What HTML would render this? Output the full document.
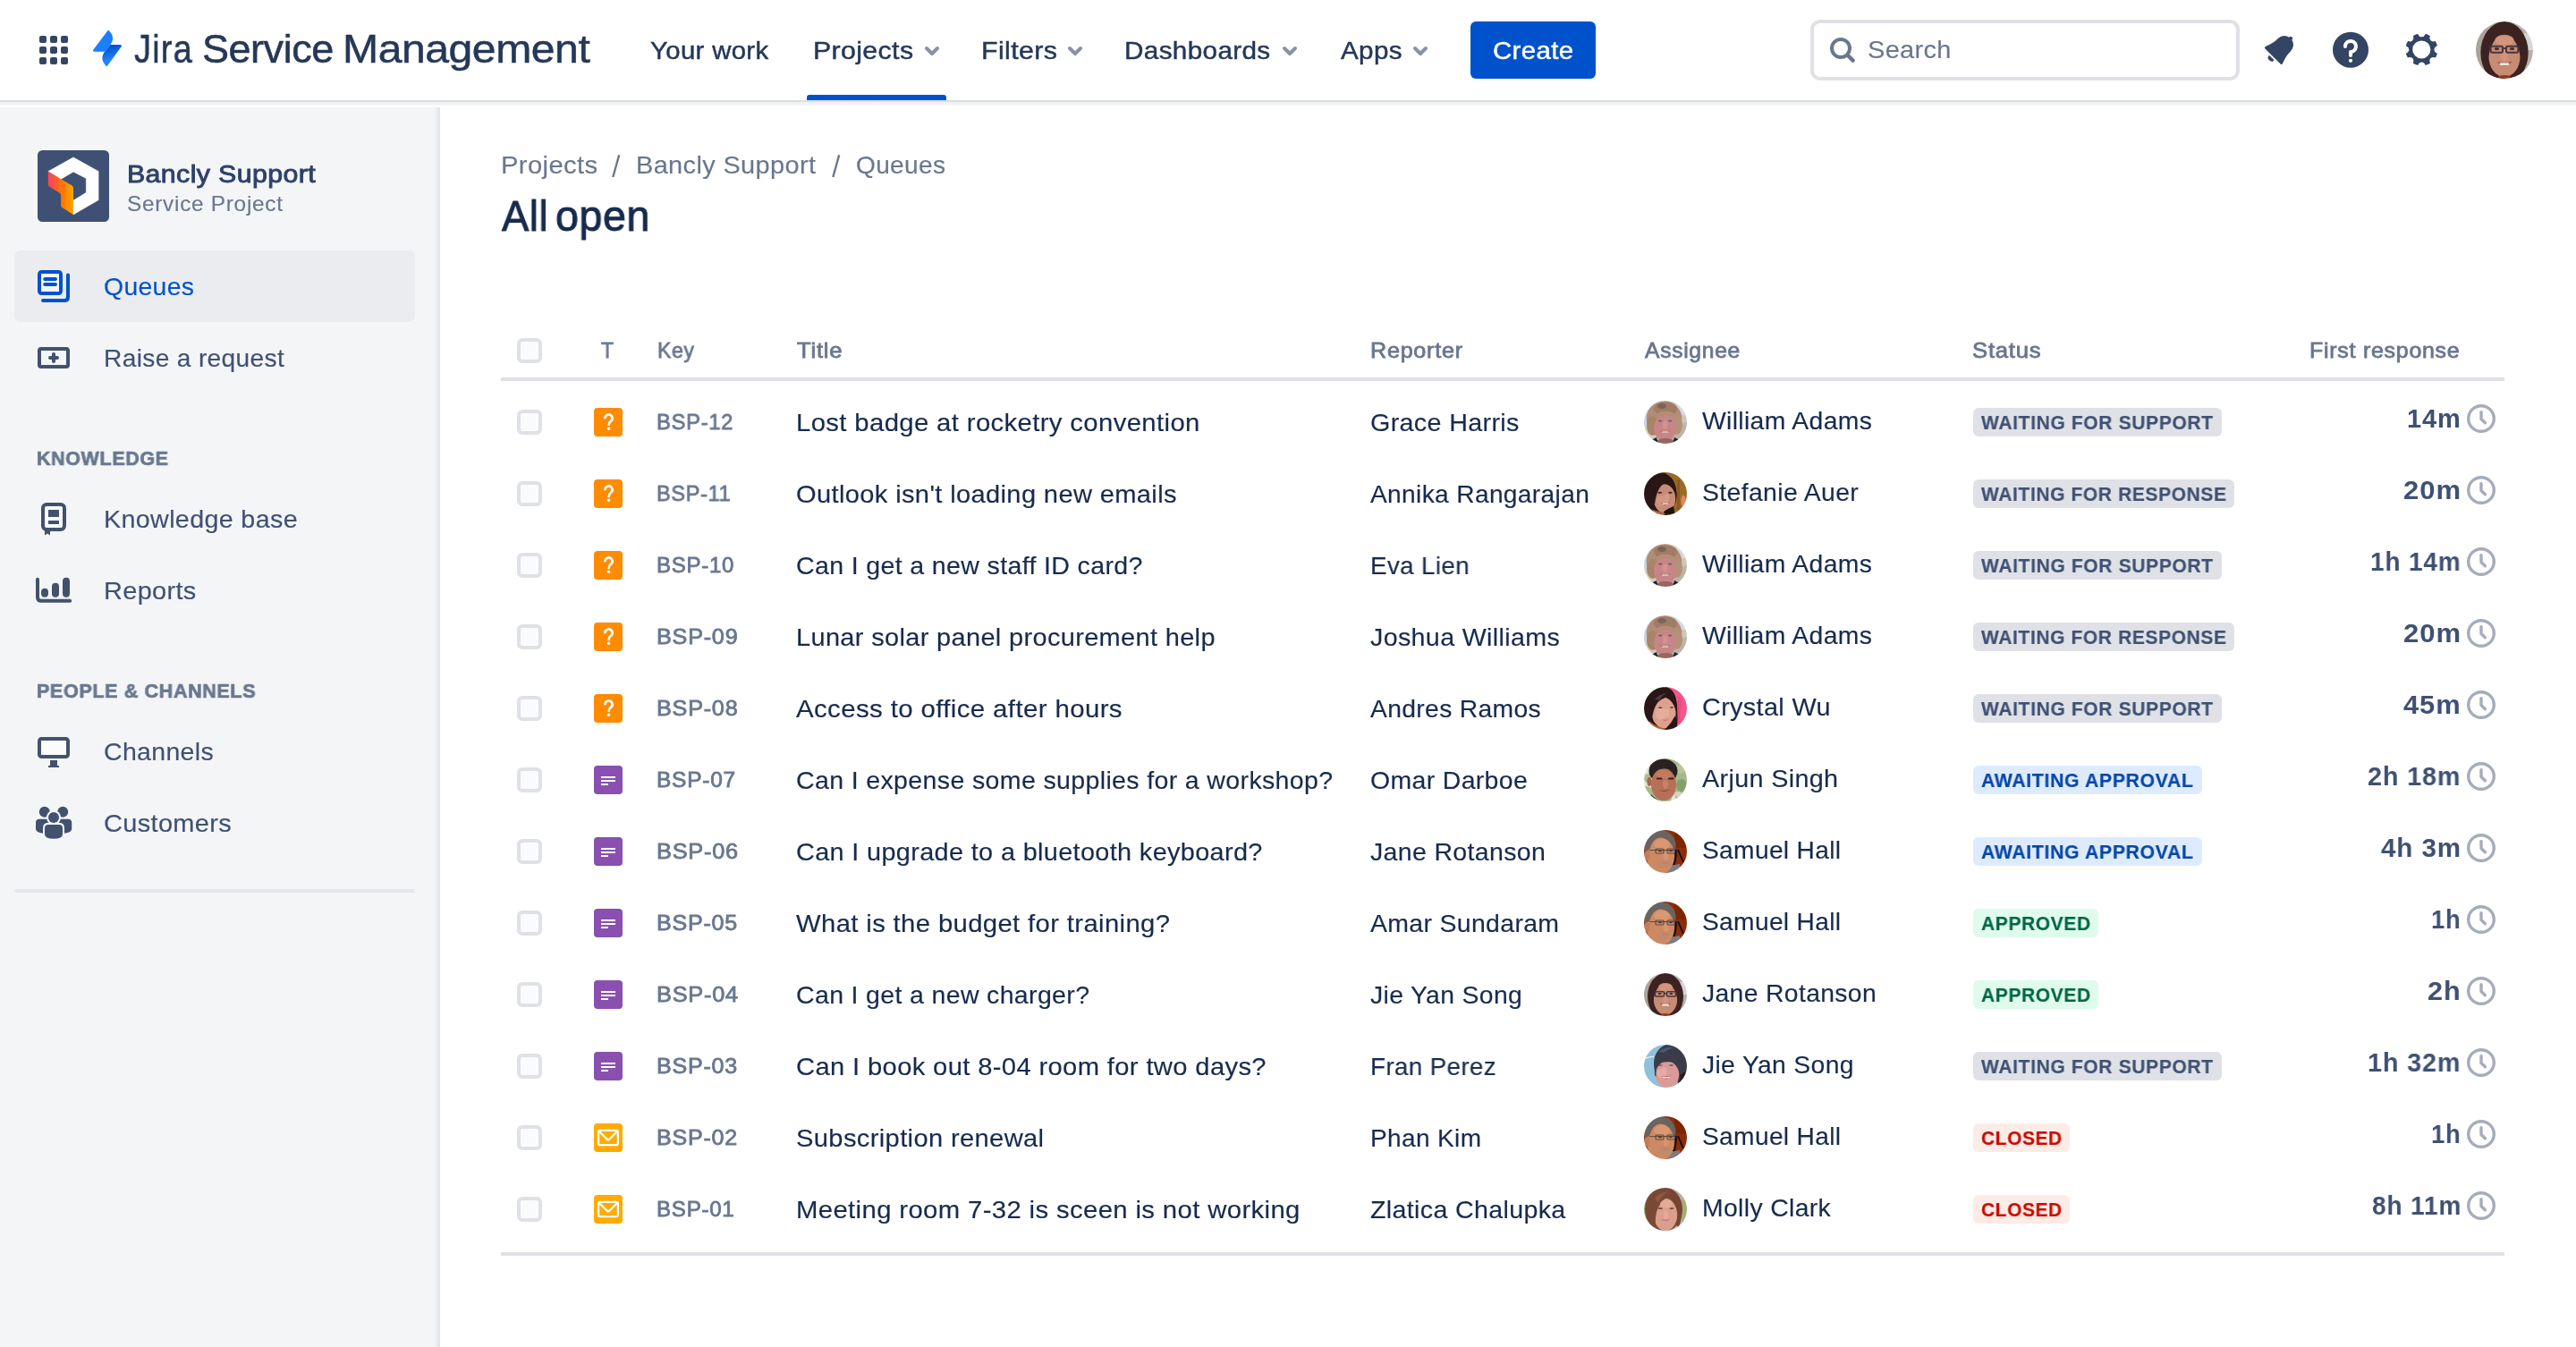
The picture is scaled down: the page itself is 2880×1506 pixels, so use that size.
<!DOCTYPE html>
<html><head><meta charset="utf-8"><title>All open - Bancly Support - Jira Service Management</title>
<style>
html,body{margin:0;padding:0;}
body{width:2880px;height:1506px;overflow:hidden;background:#fff;position:relative;font-family:"Liberation Sans",sans-serif;}
.t{position:absolute;white-space:nowrap;font-family:"Liberation Sans",sans-serif;will-change:transform;-webkit-font-smoothing:antialiased;}
.a{position:absolute;}

.hdr{position:absolute;left:0;top:0;width:2880px;height:112px;background:#fff;}
.hshadow{position:absolute;left:0;top:112px;width:2880px;height:8px;background:linear-gradient(180deg,rgba(9,30,66,.15) 0,rgba(9,30,66,.15) 2px,rgba(9,30,66,.065) 2px,rgba(9,30,66,.05) 5px,rgba(9,30,66,0) 6.5px);}
.side{position:absolute;left:0;top:120px;width:492px;height:1386px;background:#F4F5F7;}
.side:after{content:"";position:absolute;right:0;top:0;width:7px;height:100%;background:linear-gradient(90deg,rgba(9,30,66,0) 0,rgba(9,30,66,.03) 3px,rgba(9,30,66,.085) 7px);}
.sel{position:absolute;left:16px;top:280px;width:448px;height:80px;border-radius:7px;background:#EBECF0;}
.sdiv{position:absolute;left:16px;top:994px;width:448px;height:4px;border-radius:2px;background:#E4E6EB;}
.uline{position:absolute;left:902px;top:106px;width:156px;height:6px;border-radius:3px 3px 0 0;background:#0052CC;}
.create{position:absolute;left:1644px;top:24px;width:140px;height:64px;border-radius:6px;background:#0052CC;}
.search{position:absolute;left:2024px;top:22px;width:472px;height:60px;border:4px solid #DFE1E6;border-radius:11px;background:#fff;}
.hline{position:absolute;left:560px;width:2240px;height:4px;background:#DFE1E6;}
.cb{position:absolute;left:578px;width:20px;height:20px;border:4px solid #DFE1E6;border-radius:6px;background:#FAFBFC;}
.ti{position:absolute;left:664px;width:32px;height:32px;}
.lz{position:absolute;left:2206px;height:32px;border-radius:6px;}
.ck{position:absolute;left:2756px;width:36px;height:36px;}
.av{position:absolute;left:1838px;width:48px;height:48px;}

</style></head><body>
<svg width="0" height="0" style="position:absolute"><defs><clipPath id="avclip"><circle cx="24" cy="24" r="24"/></clipPath><filter id="avblur" x="-10%" y="-10%" width="120%" height="120%"><feGaussianBlur stdDeviation="0.55"/></filter><symbol id="av-william" viewBox="0 0 48 48"><g clip-path="url(#avclip)"><g filter="url(#avblur)"><rect width="48" height="48" fill="#CFC6BA"/><rect x="0" y="0" width="12" height="30" fill="#C9D3E2"/><rect x="36" y="0" width="12" height="16" fill="#D5DAE0"/><path d="M30 30 L48 24 L48 48 L30 48 Z" fill="#BDB4A8"/><path d="M0 30 L12 28 L14 48 L0 48 Z" fill="#D9C9B8"/><ellipse cx="22.5" cy="20" rx="19.8" ry="19.5" fill="#B08D75"/><ellipse cx="10" cy="28" rx="7" ry="11" fill="#A88468"/><ellipse cx="36.5" cy="27" rx="6.5" ry="11" fill="#B5917A"/><ellipse cx="24" cy="9" rx="13" ry="7.5" fill="#A07C66"/><ellipse cx="20" cy="6" rx="5" ry="3" fill="#7E6254"/><ellipse cx="23.5" cy="30.5" rx="12.3" ry="15.5" fill="#C88588"/><path d="M11 20 Q16 10 24 12 Q32 10 37 21 Q31 16 27 17 Q24 13 21 18 Q16 16 11 20 Z" fill="#B38E74"/><ellipse cx="23.5" cy="27" rx="3" ry="4.5" fill="#D49193"/><ellipse cx="18.2" cy="22.6" rx="2.4" ry="1.1" fill="#6E6470"/><ellipse cx="29.2" cy="22.6" rx="2.4" ry="1.1" fill="#6E6470"/><path d="M17.5 33.5 Q23.5 37.5 30 33.5 Q23.5 35.2 17.5 33.5 Z" fill="#6B3F40"/><rect x="20" y="34.2" width="7.5" height="1.6" rx=".8" fill="#E4D8CE"/><ellipse cx="24" cy="46" rx="10" ry="4" fill="#94675F"/><path d="M8 44 L14 41 L16 48 L8 48 Z" fill="#1E2433"/><path d="M40 44 L34 41 L32 48 L40 48 Z" fill="#1E2433"/></g></g></symbol><symbol id="av-stefanie" viewBox="0 0 48 48"><g clip-path="url(#avclip)"><g filter="url(#avblur)"><rect width="48" height="48" fill="#9A6A25"/><rect x="37" y="8" width="3" height="34" fill="#8A5A22"/><ellipse cx="44" cy="32" rx="2.6" ry="6.5" fill="#E88560"/><ellipse cx="17" cy="25" rx="19.5" ry="25.5" fill="#2A1512"/><path d="M22 2 Q34 4 36 20 Q37 28 35 34 L30 20 Z" fill="#2A1512"/><ellipse cx="23" cy="29.5" rx="12.2" ry="16.2" fill="#C98C78"/><path d="M9 30 Q10 12 24 9 Q31 10 34 20 Q28 12 22 13 Q14 18 12 36 Z" fill="#2A1512"/><ellipse cx="20" cy="32" rx="6" ry="6" fill="#D59A86" opacity=".7"/><ellipse cx="25.5" cy="28.5" rx="2.6" ry="4.5" fill="#D79C84"/><ellipse cx="17.8" cy="22.8" rx="2.6" ry="1.1" fill="#4A2E2A"/><ellipse cx="29.5" cy="22.8" rx="2.4" ry="1.1" fill="#4A2E2A"/><path d="M18.5 34 Q24 36.5 29.5 33.5 Q24 39.5 18.5 34 Z" fill="#A4584E"/><rect x="20.5" y="34.6" width="7" height="1.4" rx=".7" fill="#E2CFC4"/><path d="M22 44 Q28 40 33 38 L35 48 L22 48 Z" fill="#1F1210"/><path d="M10 42 L24 46 L22 48 L8 48 Z" fill="#B0623F"/></g></g></symbol><symbol id="av-crystal" viewBox="0 0 48 48"><g clip-path="url(#avclip)"><g filter="url(#avblur)"><rect width="48" height="48" fill="#F2588A"/><path d="M38 10 Q44 14 42 22 Q40 30 41 40 L36 40 Z" fill="#E04A7A" opacity=".6"/><ellipse cx="17" cy="24" rx="20" ry="25" fill="#2B1614"/><path d="M24 0 Q36 2 37 22 Q38 36 37 48 L30 48 Z" fill="#2B1614"/><ellipse cx="22" cy="29" rx="13.5" ry="17.5" transform="rotate(-8 22 29)" fill="#DDA08E"/><path d="M5 30 Q6 10 24 6 Q33 8 36 22 Q30 10 24 12 Q15 14 11 26 Q9 32 9 38 Z" fill="#2B1614"/><path d="M12 14 Q18 7 25 7 Q20 10 17 15 Z" fill="#4A3A3C"/><ellipse cx="19" cy="30" rx="6" ry="7" fill="#E8B0A0" opacity=".8"/><ellipse cx="25.5" cy="29" rx="2.6" ry="5" fill="#E6AC9A"/><path d="M15.5 23.2 Q18 21.6 21 23.2 Q18 24.6 15.5 23.2 Z" fill="#3A2422"/><path d="M28.5 23 Q31 21.6 33.5 22.8 Q31 24.4 28.5 23 Z" fill="#3A2422"/><path d="M19.5 36 Q24 37.5 28 36 Q24 39.8 19.5 36 Z" fill="#D66A7C"/><path d="M6 38 Q12 44 24 47 L22 48 L6 48 Z" fill="#B4683F"/><path d="M24 47 Q31 40 35 32 L37 48 L24 48 Z" fill="#2B1614"/></g></g></symbol><symbol id="av-arjun" viewBox="0 0 48 48"><g clip-path="url(#avclip)"><g filter="url(#avblur)"><rect width="48" height="48" fill="#A5BA8B"/><rect x="0" y="0" width="12" height="34" fill="#E6E2DA"/><ellipse cx="4" cy="22" rx="4" ry="5" fill="#A9BE8E"/><path d="M0 30 L12 34 L12 48 L0 48 Z" fill="#A5BA8B"/><ellipse cx="42" cy="30" rx="6" ry="7" fill="#86A06C"/><ellipse cx="40" cy="12" rx="6" ry="5" fill="#B4C79C"/><ellipse cx="38" cy="40" rx="4" ry="3" fill="#D8CFC4"/><ellipse cx="21.5" cy="14" rx="16" ry="13.5" fill="#2C2220"/><ellipse cx="22" cy="29" rx="14" ry="18" fill="#B66F58"/><ellipse cx="6" cy="26" rx="2.6" ry="5" fill="#A9644F"/><path d="M8 22 Q8 8 22 8 Q35 8 36 22 Q33 14 28 12 Q22 10 15 13 Q10 16 8 22 Z" fill="#2C2220"/><ellipse cx="22" cy="18" rx="9" ry="5" fill="#C47C64" opacity=".8"/><ellipse cx="24" cy="29" rx="3.2" ry="5" fill="#C98068"/><rect x="14" y="21.6" width="6.4" height="1.8" rx=".9" fill="#3A2420"/><rect x="27" y="21.6" width="6.4" height="1.8" rx=".9" fill="#3A2420"/><path d="M16 35 Q23 37 30 34.5 Q23 39 16 35 Z" fill="#8A4538"/><path d="M8 40 Q14 47 22 48 L6 48 Z" fill="#3A2C2A"/><path d="M31 44 L34 40 L36 48 L30 48 Z" fill="#E9E6E0"/></g></g></symbol><symbol id="av-samuel" viewBox="0 0 48 48"><g clip-path="url(#avclip)"><g filter="url(#avblur)"><rect width="48" height="48" fill="#8B2E08"/><rect x="34" y="0" width="14" height="20" fill="#7E2706"/><path d="M35.5 22 Q37 30 31 47" stroke="#160C08" stroke-width="2.2" fill="none"/><path d="M38 22 L44 36" stroke="#160C08" stroke-width="1.8" fill="none"/><path d="M28 40 L40 38 L42 48 L26 48 Z" fill="#7C7C84"/><ellipse cx="18" cy="17" rx="17.5" ry="17" fill="#6B6460"/><ellipse cx="18.5" cy="29" rx="15.5" ry="20.5" fill="#CE8964"/><ellipse cx="3.5" cy="28" rx="3" ry="6" fill="#C27C58"/><path d="M1 24 Q2 3 20 2 Q33 4 34 20 Q30 9 20 7.5 Q10 8.5 6 22 Z" fill="#6B6460"/><ellipse cx="20" cy="16" rx="9" ry="6" fill="#DB9A74" opacity=".85"/><ellipse cx="24.5" cy="29" rx="3" ry="5.5" fill="#D9946E"/><ellipse cx="22" cy="38" rx="8" ry="5" fill="#BE8A70" opacity=".7"/><path d="M6 22.6 L35 22.6" stroke="#5A4A42" stroke-width="1"/><rect x="13" y="21" width="9" height="5" rx="1" fill="none" stroke="#5A4A42" stroke-width="1.1"/><rect x="26" y="21" width="8.5" height="5" rx="1" fill="none" stroke="#5A4A42" stroke-width="1.1"/><ellipse cx="18" cy="23.2" rx="2" ry="1" fill="#4A3A36"/><ellipse cx="30" cy="23.2" rx="2" ry="1" fill="#4A3A36"/><path d="M20 36.2 Q25 37.2 28 36 Q25 38.4 20 36.2 Z" fill="#D0574A"/></g></g></symbol><symbol id="av-jane" viewBox="0 0 48 48"><g clip-path="url(#avclip)"><g filter="url(#avblur)"><rect width="48" height="48" fill="#B7B1A9"/><rect x="40" y="10" width="8" height="14" fill="#D6D6D8"/><path d="M0 10 L10 4 L10 40 L0 40 Z" fill="#A9A39B"/><ellipse cx="24" cy="26" rx="20" ry="26" fill="#3C2420"/><ellipse cx="24" cy="29" rx="13.2" ry="17.6" fill="#C78A72"/><path d="M10 34 Q8 8 24 6 Q40 8 38 34 Q36 14 24 9.5 Q12 14 10 34 Z" fill="#3C2420"/><ellipse cx="24" cy="15.5" rx="8" ry="4.5" fill="#D39880" opacity=".8"/><ellipse cx="24" cy="29" rx="3" ry="5" fill="#D1937A"/><rect x="12.5" y="20.8" width="10" height="5.2" rx="1.2" fill="none" stroke="#4A3840" stroke-width="1.5"/><rect x="25.5" y="20.8" width="10" height="5.2" rx="1.2" fill="none" stroke="#4A3840" stroke-width="1.5"/><path d="M22.5 22.6 H25.5" stroke="#4A3840" stroke-width="1.3"/><ellipse cx="17.6" cy="23" rx="2" ry="1" fill="#3A2A2C"/><ellipse cx="30.4" cy="23" rx="2" ry="1" fill="#3A2A2C"/><path d="M17.5 33.8 Q24 35.5 30.5 33.5 Q24 40.5 17.5 33.8 Z" fill="#9A4E44"/><rect x="20" y="34.6" width="8" height="2.1" rx="1" fill="#EDE4DC"/><path d="M19 46 Q24 44 29 46 L29 48 L19 48 Z" fill="#8A3A22"/></g></g></symbol><symbol id="av-jie" viewBox="0 0 48 48"><g clip-path="url(#avclip)"><g filter="url(#avblur)"><rect width="48" height="48" fill="#8FC1DC"/><path d="M2 15 Q8 13 11 13.5" stroke="#E6ECF2" stroke-width="1.4" fill="none"/><ellipse cx="30" cy="21" rx="19" ry="22" fill="#3A3A48"/><path d="M34 2 Q48 8 48 24 L48 40 Q44 46 38 44 Z" fill="#3A3A48"/><ellipse cx="26" cy="33.5" rx="13.2" ry="15" fill="#DA9A98"/><path d="M12 34 Q11 18 14 12 Q24 2 40 10 Q47 22 44 36 Q42 24 38 20 Q30 19 22 19.5 Q16 20 14.5 24 Q13 28 13.5 36 Z" fill="#3A3A48"/><path d="M16 8 Q26 1 34 4 Q28 4 22 9 Z" fill="#4C5872"/><path d="M40 34 Q42 40 36 46 L46 42 L46 30 Z" fill="#2A1E1E"/><ellipse cx="20" cy="32" rx="5" ry="5.5" fill="#E8ACA8" opacity=".8"/><ellipse cx="23" cy="29.5" rx="2.6" ry="4.4" fill="#E6A8A2"/><path d="M15 23 Q18 21.4 21 23 Q18 24.6 15 23 Z" fill="#4A4A62"/><path d="M27.5 23 Q30.5 21.4 33.5 23 Q30.5 24.6 27.5 23 Z" fill="#4A4A62"/><path d="M19 35 Q25 36.6 30.5 34 Q25 41.5 19 35 Z" fill="#A8505A"/><path d="M20.4 35.6 Q25 36.8 29.2 35.2 L28.6 37 Q25 38 21.2 37 Z" fill="#EFE8E2"/><path d="M21 38 Q25 39 27.5 38 Q25 40.6 21 38 Z" fill="#EA7488"/></g></g></symbol><symbol id="av-molly" viewBox="0 0 48 48"><g clip-path="url(#avclip)"><g filter="url(#avblur)"><rect width="48" height="48" fill="#B6AEA6"/><path d="M40 14 L48 14 L48 38 L42 38 Z" fill="#A2B072"/><path d="M0 20 L6 20 L6 36 L0 36 Z" fill="#9CAE6C"/><ellipse cx="22" cy="24" rx="21" ry="25" fill="#7A4936"/><path d="M30 2 Q44 10 42 30 Q41 40 38 46 L34 30 Z" fill="#744432"/><ellipse cx="24" cy="30" rx="13.2" ry="18" fill="#DBA08C"/><path d="M8 40 Q4 14 22 7 Q30 4 32 7 Q20 12 15 24 Q12 32 13 44 Z" fill="#7A4936"/><path d="M28 6 Q38 12 38 30 Q36 18 28 10 Z" fill="#744432"/><path d="M12 12 Q18 5 27 4 Q20 8 16 16 Z" fill="#8E5A44"/><ellipse cx="25" cy="18" rx="7" ry="4.5" fill="#E6AE9A" opacity=".8"/><ellipse cx="24.5" cy="30" rx="2.8" ry="5" fill="#E4AA96"/><path d="M15 23 Q18.2 21.4 21.5 23 Q18.2 24.8 15 23 Z" fill="#5A3C34"/><path d="M28 23 Q31 21.4 34 23 Q31 24.8 28 23 Z" fill="#5A3C34"/><path d="M18.5 35 Q24 36.4 29.5 35 Q24 39.6 18.5 35 Z" fill="#C8707C"/><path d="M21.5 36 Q24 38.6 27 36.6 Q24 37.2 21.5 36 Z" fill="#E878A8"/></g></g></symbol></defs></svg>
<div class="hdr"></div><div class="hshadow"></div>
<div class="side"></div><div class="sel"></div><div class="sdiv"></div>
<div class="uline"></div><div class="create"></div><div class="search"></div>
<svg class="a" style="left:36px;top:32px" width="48" height="48" viewBox="0 0 48 48"><rect x="8" y="8" width="8" height="8" rx="2" fill="#344563"/><rect x="20" y="8" width="8" height="8" rx="2" fill="#344563"/><rect x="32" y="8" width="8" height="8" rx="2" fill="#344563"/><rect x="8" y="20" width="8" height="8" rx="2" fill="#344563"/><rect x="20" y="20" width="8" height="8" rx="2" fill="#344563"/><rect x="32" y="20" width="8" height="8" rx="2" fill="#344563"/><rect x="8" y="32" width="8" height="8" rx="2" fill="#344563"/><rect x="20" y="32" width="8" height="8" rx="2" fill="#344563"/><rect x="32" y="32" width="8" height="8" rx="2" fill="#344563"/></svg>
<svg class="a" style="left:96px;top:28px" width="48" height="52" viewBox="96 28 48 52">
<defs><linearGradient id="jg" x1="0.45" y1="0.05" x2="0.6" y2="0.7"><stop offset="0" stop-color="#0052CC"/><stop offset="1" stop-color="#2684FF"/></linearGradient></defs>
<path d="M123.3 50.1 L134.2 50.1 Q137 50.1 135.4 52.6 L119.4 74.6 Q110.5 66.5 117.3 57.6 Z" fill="url(#jg)"/>
<path d="M117.2 57.8 L105.8 57.8 Q103 57.8 104.6 55.3 L121 33.6 Q129.8 41.5 123.2 50.3 Z" fill="#1C7FFF"/>
</svg>
<svg class="a" style="left:1030px;top:46px" width="24" height="22" viewBox="0 0 24 22"><path d="M6 8 L12 14 L18 8" fill="none" stroke="#8792A6" stroke-width="4" stroke-linecap="round" stroke-linejoin="round"/></svg>
<svg class="a" style="left:1190px;top:46px" width="24" height="22" viewBox="0 0 24 22"><path d="M6 8 L12 14 L18 8" fill="none" stroke="#8792A6" stroke-width="4" stroke-linecap="round" stroke-linejoin="round"/></svg>
<svg class="a" style="left:1430px;top:46px" width="24" height="22" viewBox="0 0 24 22"><path d="M6 8 L12 14 L18 8" fill="none" stroke="#8792A6" stroke-width="4" stroke-linecap="round" stroke-linejoin="round"/></svg>
<svg class="a" style="left:1576px;top:46px" width="24" height="22" viewBox="0 0 24 22"><path d="M6 8 L12 14 L18 8" fill="none" stroke="#8792A6" stroke-width="4" stroke-linecap="round" stroke-linejoin="round"/></svg>
<svg class="a" style="left:2040px;top:36px" width="40" height="40" viewBox="2040 36 40 40"><circle cx="2058" cy="54" r="10" fill="none" stroke="#6B778C" stroke-width="4"/><path d="M2065.6 61.6 L2071.6 67.6" stroke="#6B778C" stroke-width="4.4" stroke-linecap="round"/></svg>
<svg class="a" style="left:2524px;top:32px" width="48" height="48" viewBox="0 0 24 24"><path fill="#344563" fill-rule="evenodd" d="M6.485 17.669a2 2 0 002.829 0l-2.829-2.83a2 2 0 000 2.83zm4.897-12.191l-.725.725c-.782.782-2.21 1.813-3.206 2.311l-3.017 1.509c-.495.248-.584.774-.187 1.171l8.556 8.556c.398.396.922.313 1.171-.188l1.51-3.016c.494-.988 1.526-2.42 2.311-3.206l.725-.726a5.048 5.048 0 00.64-6.356 1.01 1.01 0 10-1.354-1.494c-.023.025-.046.049-.066.075a5.043 5.043 0 00-2.788-.84 5.036 5.036 0 00-3.57 1.478z"/></svg>
<svg class="a" style="left:2604px;top:32px" width="48" height="48" viewBox="0 0 24 24"><circle fill="#344563" cx="12" cy="11.85" r="10"/><circle fill="#fff" cx="12" cy="17.9" r="1.05"/><path fill="#fff" d="M15.89 9.05a3.975 3.975 0 00-2.957-2.942C10.321 5.514 8.017 7.446 8 9.95l.005.147a.992.992 0 00.982.904c.552 0 1-.447 1.002-.998a2.004 2.004 0 014.007-.002c0 1.102-.898 2-2.003 2H12a1 1 0 00-1 .987v2.014a1.001 1.001 0 002.004 0v-.782c0-.217.145-.399.35-.472A3.99 3.99 0 0015.89 9.05"/></svg>
<svg class="a" style="left:2684px;top:32px" width="48" height="48" viewBox="0 0 24 24"><path fill="#344563" fill-rule="evenodd" d="M11.701 16.7a5.002 5.002 0 110-10.003 5.002 5.002 0 010 10.004m8.368-3.117a1.995 1.995 0 01-1.346-1.885c0-.876.563-1.613 1.345-1.885a.48.48 0 00.315-.574 8.947 8.947 0 00-.836-1.993.477.477 0 00-.598-.195 2.04 2.04 0 01-1.29.08 1.988 1.988 0 01-1.404-1.395 2.04 2.04 0 01.076-1.297.478.478 0 00-.196-.597 8.98 8.98 0 00-1.975-.826.479.479 0 00-.574.314 1.995 1.995 0 01-1.885 1.346 1.994 1.994 0 01-1.884-1.345.482.482 0 00-.575-.315c-.708.2-1.379.485-2.004.842a.47.47 0 00-.198.582A2.002 2.002 0 014.445 7.06a.478.478 0 00-.595.196 8.946 8.946 0 00-.833 1.994.48.48 0 00.308.572 1.995 1.995 0 011.323 1.877c0 .867-.552 1.599-1.324 1.877a.479.479 0 00-.308.57 8.99 8.99 0 00.723 1.79.477.477 0 00.624.194c.595-.273 1.343-.264 2.104.238.117.077.225.185.302.3.527.8.512 1.58.198 2.188a.473.473 0 00.168.628 8.946 8.946 0 002.11.897.474.474 0 00.57-.313 1.995 1.995 0 011.886-1.353c.878 0 1.618.567 1.887 1.353a.475.475 0 00.57.313 8.964 8.964 0 002.084-.883.473.473 0 00.167-.631c-.318-.608-.337-1.393.191-2.195.077-.116.185-.225.302-.302.772-.511 1.527-.513 2.125-.23a.477.477 0 00.628-.19 8.925 8.925 0 00.728-1.793.478.478 0 00-.314-.573"/></svg>
<svg class="a" style="left:42px;top:168px" width="80" height="80" viewBox="0 0 80 80">
<defs><linearGradient id="og" x1="0" y1="0" x2="1" y2="0"><stop offset="0.1" stop-color="#FF4757"/><stop offset="0.6" stop-color="#FF7A00"/><stop offset="1" stop-color="#FFAB00"/></linearGradient></defs>
<rect width="80" height="80" rx="5.5" fill="#3E5073"/>
<path d="M40 7.8 L68.2 23.4 L68.2 55.7 L40 72.1 L40 55.9 L54.2 47.2 L54.2 31.6 L40 24.2 L26.1 32.4 L11.8 23.6 Z" fill="#fff" stroke="#fff" stroke-width="0.3" stroke-linejoin="round"/>
<path d="M11.8 23.6 L38.5 39.6 Q40 40.6 40 42.5 L40 72.1 L27.3 64 Q26.1 63.1 26.1 61.8 L26.1 50.5 Q26.1 48.7 24.6 47.8 L13 40.4 Q11.8 39.6 11.8 38.2 Z" fill="url(#og)"/>
</svg>
<svg class="a" style="left:40px;top:300px" width="42" height="42" viewBox="40 300 42 42">
<path d="M76 307.6 L76 332 Q76 336 72 336 L48 336" fill="none" stroke="#0052CC" stroke-width="4" stroke-linecap="round"/>
<rect x="44" y="304" width="24" height="24" rx="2.5" fill="#F7F8FA" stroke="#0052CC" stroke-width="4"/>
<path d="M50.2 312 H62 M50.2 318 H62" stroke="#0052CC" stroke-width="4" stroke-linecap="round"/></svg>
<svg class="a" style="left:40px;top:384px" width="42" height="32" viewBox="40 384 42 32">
<rect x="44" y="390" width="32" height="20" rx="2" fill="none" stroke="#42526E" stroke-width="4"/>
<path d="M56 400 H64 M60 396 V404" stroke="#42526E" stroke-width="4" stroke-linecap="round"/></svg>
<svg class="a" style="left:44px;top:560px" width="34" height="40" viewBox="44 560 34 40">
<rect x="48" y="564" width="24" height="28" rx="4" fill="#FAFBFC" stroke="#42526E" stroke-width="4"/>
<rect x="54" y="570" width="12" height="8" fill="#42526E"/><rect x="54" y="582" width="12" height="4" fill="#42526E"/>
<path d="M50 592 H56 V598.4 L53 596.4 L50 598.4 Z" fill="#42526E"/></svg>
<svg class="a" style="left:38px;top:644px" width="46" height="32" viewBox="38 644 46 32">
<path d="M42 647.8 V667.8 Q42 671.8 46 671.8 H78.2" fill="none" stroke="#42526E" stroke-width="4" stroke-linecap="round"/>
<rect x="46" y="657.8" width="8" height="10" rx="4" fill="#42526E"/><rect x="58" y="651.8" width="8" height="16" rx="4" fill="#42526E"/><rect x="70" y="645.8" width="8" height="22" rx="4" fill="#42526E"/></svg>
<svg class="a" style="left:40px;top:822px" width="42" height="38" viewBox="40 822 42 38">
<rect x="44" y="826" width="32" height="20" rx="2.5" fill="#FAFBFC" stroke="#42526E" stroke-width="4"/>
<rect x="56" y="850" width="8" height="6.5" fill="#42526E"/><rect x="54" y="856" width="12" height="2" fill="#42526E"/></svg>
<svg class="a" style="left:38px;top:900px" width="46" height="40" viewBox="38 900 46 40">
<circle cx="49.8" cy="907.8" r="6" fill="#42526E"/><circle cx="70.2" cy="907.8" r="6" fill="#42526E"/>
<path d="M40 920 Q40 915.8 44 915.8 H56 V931.8 H48 Q40 930.8 40 926.8 Z" fill="#42526E"/>
<path d="M80.2 920 Q80.2 915.8 76 915.8 H64 V931.8 H72 Q80.2 930.8 80.2 926.8 Z" fill="#42526E"/>
<circle cx="60" cy="914" r="8" fill="#F4F5F7"/><path d="M48 926 Q48 919.8 54 919.8 H66 Q72 919.8 72 926 V933 H48 Z" fill="#F4F5F7"/>
<circle cx="60" cy="914" r="6" fill="#42526E"/>
<path d="M50 926 Q50 921.9 54 921.9 H66 Q70 921.9 70 926 V932.8 Q70 937.8 60 937.8 Q50 937.8 50 932.8 Z" fill="#42526E"/></svg>
<svg class="a" style="left:682.2px;top:170px" width="14" height="32" viewBox="0 0 14 32"><path d="M3.3 28 L10.2 3.2" stroke="#69778F" stroke-width="2.4" fill="none"/></svg>
<svg class="a" style="left:927.9px;top:170px" width="14" height="32" viewBox="0 0 14 32"><path d="M3.3 28 L10.2 3.2" stroke="#69778F" stroke-width="2.4" fill="none"/></svg>
<div class="hline" style="top:422px"></div><div class="hline" style="top:1400px"></div>
<div class="cb" style="top:378px"></div>
<div class="cb" style="top:458px"></div>
<svg class="ti" style="top:456px" viewBox="0 0 32 32"><rect width="32" height="32" rx="4" fill="#FF8B00"/><path d="M12.55 12.2 A4.05 4.05 0 1 1 18.9 14.8 C17.2 16.2 16.5 17.1 16.5 19.9" fill="none" stroke="#fff" stroke-width="2.7" stroke-linecap="butt"/><circle cx="16.5" cy="23.2" r="1.75" fill="#fff"/></svg>
<div class="lz" style="top:456px;width:278px;background:#DFE1E6"></div>
<svg class="ck" style="top:450px" viewBox="0 0 36 36"><circle cx="18" cy="18" r="14.3" fill="none" stroke="#A5ADBA" stroke-width="3.4"/><path d="M18 10.6 V18.5 L22.4 22.8" fill="none" stroke="#A5ADBA" stroke-width="3.4" stroke-linecap="round" stroke-linejoin="round"/></svg>
<svg class="av" style="top:448px" viewBox="0 0 48 48"><use href="#av-william"/></svg>
<div class="cb" style="top:538px"></div>
<svg class="ti" style="top:536px" viewBox="0 0 32 32"><rect width="32" height="32" rx="4" fill="#FF8B00"/><path d="M12.55 12.2 A4.05 4.05 0 1 1 18.9 14.8 C17.2 16.2 16.5 17.1 16.5 19.9" fill="none" stroke="#fff" stroke-width="2.7" stroke-linecap="butt"/><circle cx="16.5" cy="23.2" r="1.75" fill="#fff"/></svg>
<div class="lz" style="top:536px;width:292px;background:#DFE1E6"></div>
<svg class="ck" style="top:530px" viewBox="0 0 36 36"><circle cx="18" cy="18" r="14.3" fill="none" stroke="#A5ADBA" stroke-width="3.4"/><path d="M18 10.6 V18.5 L22.4 22.8" fill="none" stroke="#A5ADBA" stroke-width="3.4" stroke-linecap="round" stroke-linejoin="round"/></svg>
<svg class="av" style="top:528px" viewBox="0 0 48 48"><use href="#av-stefanie"/></svg>
<div class="cb" style="top:618px"></div>
<svg class="ti" style="top:616px" viewBox="0 0 32 32"><rect width="32" height="32" rx="4" fill="#FF8B00"/><path d="M12.55 12.2 A4.05 4.05 0 1 1 18.9 14.8 C17.2 16.2 16.5 17.1 16.5 19.9" fill="none" stroke="#fff" stroke-width="2.7" stroke-linecap="butt"/><circle cx="16.5" cy="23.2" r="1.75" fill="#fff"/></svg>
<div class="lz" style="top:616px;width:278px;background:#DFE1E6"></div>
<svg class="ck" style="top:610px" viewBox="0 0 36 36"><circle cx="18" cy="18" r="14.3" fill="none" stroke="#A5ADBA" stroke-width="3.4"/><path d="M18 10.6 V18.5 L22.4 22.8" fill="none" stroke="#A5ADBA" stroke-width="3.4" stroke-linecap="round" stroke-linejoin="round"/></svg>
<svg class="av" style="top:608px" viewBox="0 0 48 48"><use href="#av-william"/></svg>
<div class="cb" style="top:698px"></div>
<svg class="ti" style="top:696px" viewBox="0 0 32 32"><rect width="32" height="32" rx="4" fill="#FF8B00"/><path d="M12.55 12.2 A4.05 4.05 0 1 1 18.9 14.8 C17.2 16.2 16.5 17.1 16.5 19.9" fill="none" stroke="#fff" stroke-width="2.7" stroke-linecap="butt"/><circle cx="16.5" cy="23.2" r="1.75" fill="#fff"/></svg>
<div class="lz" style="top:696px;width:292px;background:#DFE1E6"></div>
<svg class="ck" style="top:690px" viewBox="0 0 36 36"><circle cx="18" cy="18" r="14.3" fill="none" stroke="#A5ADBA" stroke-width="3.4"/><path d="M18 10.6 V18.5 L22.4 22.8" fill="none" stroke="#A5ADBA" stroke-width="3.4" stroke-linecap="round" stroke-linejoin="round"/></svg>
<svg class="av" style="top:688px" viewBox="0 0 48 48"><use href="#av-william"/></svg>
<div class="cb" style="top:778px"></div>
<svg class="ti" style="top:776px" viewBox="0 0 32 32"><rect width="32" height="32" rx="4" fill="#FF8B00"/><path d="M12.55 12.2 A4.05 4.05 0 1 1 18.9 14.8 C17.2 16.2 16.5 17.1 16.5 19.9" fill="none" stroke="#fff" stroke-width="2.7" stroke-linecap="butt"/><circle cx="16.5" cy="23.2" r="1.75" fill="#fff"/></svg>
<div class="lz" style="top:776px;width:278px;background:#DFE1E6"></div>
<svg class="ck" style="top:770px" viewBox="0 0 36 36"><circle cx="18" cy="18" r="14.3" fill="none" stroke="#A5ADBA" stroke-width="3.4"/><path d="M18 10.6 V18.5 L22.4 22.8" fill="none" stroke="#A5ADBA" stroke-width="3.4" stroke-linecap="round" stroke-linejoin="round"/></svg>
<svg class="av" style="top:768px" viewBox="0 0 48 48"><use href="#av-crystal"/></svg>
<div class="cb" style="top:858px"></div>
<svg class="ti" style="top:856px" viewBox="0 0 32 32"><rect width="32" height="32" rx="4" fill="#8950AF"/><path d="M8 13 H24 M8 17 H24 M8 21 H16" stroke="#fff" stroke-width="2.2"/></svg>
<div class="lz" style="top:856px;width:256px;background:#DEEBFF"></div>
<svg class="ck" style="top:850px" viewBox="0 0 36 36"><circle cx="18" cy="18" r="14.3" fill="none" stroke="#A5ADBA" stroke-width="3.4"/><path d="M18 10.6 V18.5 L22.4 22.8" fill="none" stroke="#A5ADBA" stroke-width="3.4" stroke-linecap="round" stroke-linejoin="round"/></svg>
<svg class="av" style="top:848px" viewBox="0 0 48 48"><use href="#av-arjun"/></svg>
<div class="cb" style="top:938px"></div>
<svg class="ti" style="top:936px" viewBox="0 0 32 32"><rect width="32" height="32" rx="4" fill="#8950AF"/><path d="M8 13 H24 M8 17 H24 M8 21 H16" stroke="#fff" stroke-width="2.2"/></svg>
<div class="lz" style="top:936px;width:256px;background:#DEEBFF"></div>
<svg class="ck" style="top:930px" viewBox="0 0 36 36"><circle cx="18" cy="18" r="14.3" fill="none" stroke="#A5ADBA" stroke-width="3.4"/><path d="M18 10.6 V18.5 L22.4 22.8" fill="none" stroke="#A5ADBA" stroke-width="3.4" stroke-linecap="round" stroke-linejoin="round"/></svg>
<svg class="av" style="top:928px" viewBox="0 0 48 48"><use href="#av-samuel"/></svg>
<div class="cb" style="top:1018px"></div>
<svg class="ti" style="top:1016px" viewBox="0 0 32 32"><rect width="32" height="32" rx="4" fill="#8950AF"/><path d="M8 13 H24 M8 17 H24 M8 21 H16" stroke="#fff" stroke-width="2.2"/></svg>
<div class="lz" style="top:1016px;width:140px;background:#DFFBEC"></div>
<svg class="ck" style="top:1010px" viewBox="0 0 36 36"><circle cx="18" cy="18" r="14.3" fill="none" stroke="#A5ADBA" stroke-width="3.4"/><path d="M18 10.6 V18.5 L22.4 22.8" fill="none" stroke="#A5ADBA" stroke-width="3.4" stroke-linecap="round" stroke-linejoin="round"/></svg>
<svg class="av" style="top:1008px" viewBox="0 0 48 48"><use href="#av-samuel"/></svg>
<div class="cb" style="top:1098px"></div>
<svg class="ti" style="top:1096px" viewBox="0 0 32 32"><rect width="32" height="32" rx="4" fill="#8950AF"/><path d="M8 13 H24 M8 17 H24 M8 21 H16" stroke="#fff" stroke-width="2.2"/></svg>
<div class="lz" style="top:1096px;width:140px;background:#DFFBEC"></div>
<svg class="ck" style="top:1090px" viewBox="0 0 36 36"><circle cx="18" cy="18" r="14.3" fill="none" stroke="#A5ADBA" stroke-width="3.4"/><path d="M18 10.6 V18.5 L22.4 22.8" fill="none" stroke="#A5ADBA" stroke-width="3.4" stroke-linecap="round" stroke-linejoin="round"/></svg>
<svg class="av" style="top:1088px" viewBox="0 0 48 48"><use href="#av-jane"/></svg>
<div class="cb" style="top:1178px"></div>
<svg class="ti" style="top:1176px" viewBox="0 0 32 32"><rect width="32" height="32" rx="4" fill="#8950AF"/><path d="M8 13 H24 M8 17 H24 M8 21 H16" stroke="#fff" stroke-width="2.2"/></svg>
<div class="lz" style="top:1176px;width:278px;background:#DFE1E6"></div>
<svg class="ck" style="top:1170px" viewBox="0 0 36 36"><circle cx="18" cy="18" r="14.3" fill="none" stroke="#A5ADBA" stroke-width="3.4"/><path d="M18 10.6 V18.5 L22.4 22.8" fill="none" stroke="#A5ADBA" stroke-width="3.4" stroke-linecap="round" stroke-linejoin="round"/></svg>
<svg class="av" style="top:1168px" viewBox="0 0 48 48"><use href="#av-jie"/></svg>
<div class="cb" style="top:1258px"></div>
<svg class="ti" style="top:1256px" viewBox="0 0 32 32"><rect width="32" height="32" rx="4" fill="#FFAB00"/><rect x="5.1" y="7.9" width="21.8" height="16.2" rx="1.8" fill="none" stroke="#fff" stroke-width="2.3"/><path d="M6.2 9.2 L14.9 17.9 Q16 18.9 17.1 17.9 L25.8 9.2" fill="none" stroke="#fff" stroke-width="2.3" stroke-linejoin="round"/></svg>
<div class="lz" style="top:1256px;width:108px;background:#FDEBE6"></div>
<svg class="ck" style="top:1250px" viewBox="0 0 36 36"><circle cx="18" cy="18" r="14.3" fill="none" stroke="#A5ADBA" stroke-width="3.4"/><path d="M18 10.6 V18.5 L22.4 22.8" fill="none" stroke="#A5ADBA" stroke-width="3.4" stroke-linecap="round" stroke-linejoin="round"/></svg>
<svg class="av" style="top:1248px" viewBox="0 0 48 48"><use href="#av-samuel"/></svg>
<div class="cb" style="top:1338px"></div>
<svg class="ti" style="top:1336px" viewBox="0 0 32 32"><rect width="32" height="32" rx="4" fill="#FFAB00"/><rect x="5.1" y="7.9" width="21.8" height="16.2" rx="1.8" fill="none" stroke="#fff" stroke-width="2.3"/><path d="M6.2 9.2 L14.9 17.9 Q16 18.9 17.1 17.9 L25.8 9.2" fill="none" stroke="#fff" stroke-width="2.3" stroke-linejoin="round"/></svg>
<div class="lz" style="top:1336px;width:108px;background:#FDEBE6"></div>
<svg class="ck" style="top:1330px" viewBox="0 0 36 36"><circle cx="18" cy="18" r="14.3" fill="none" stroke="#A5ADBA" stroke-width="3.4"/><path d="M18 10.6 V18.5 L22.4 22.8" fill="none" stroke="#A5ADBA" stroke-width="3.4" stroke-linecap="round" stroke-linejoin="round"/></svg>
<svg class="av" style="top:1328px" viewBox="0 0 48 48"><use href="#av-molly"/></svg>
<svg class="a" style="left:2768px;top:24px" width="64" height="64" viewBox="0 0 48 48"><use href="#av-jane"/></svg>
<div class="t" style="left:150.10px;top:32px;font-size:45px;line-height:45px;color:#253858;letter-spacing:1.498px;transform:scaleX(0.84);transform-origin:0 0;-webkit-text-stroke:0.6px #253858;">Jira</div>
<div class="t" style="left:225.60px;top:32px;font-size:45px;line-height:45px;color:#253858;letter-spacing:-0.471px;-webkit-text-stroke:0.55px #253858;">Service</div>
<div class="t" style="left:383.09px;top:32px;font-size:45px;line-height:45px;color:#253858;letter-spacing:-0.443px;transform:scaleX(1.07);transform-origin:0 0;-webkit-text-stroke:0.5px #253858;">Management</div>
<div class="t" style="left:727.00px;top:43px;font-size:28px;line-height:28px;color:#253858;letter-spacing:0.336px;transform:scaleX(1.047509896896804);transform-origin:0 0;-webkit-text-stroke:0.45px #253858;">Your work</div>
<div class="t" style="left:909.03px;top:43px;font-size:28px;line-height:28px;color:#253858;letter-spacing:0.336px;transform:scaleX(1.0826244313780726);transform-origin:0 0;-webkit-text-stroke:0.45px #253858;">Projects</div>
<div class="t" style="left:1096.83px;top:43px;font-size:28px;line-height:28px;color:#253858;letter-spacing:0.336px;transform:scaleX(1.0845770297035449);transform-origin:0 0;-webkit-text-stroke:0.45px #253858;">Filters</div>
<div class="t" style="left:1256.88px;top:43px;font-size:28px;line-height:28px;color:#253858;letter-spacing:0.336px;transform:scaleX(1.059584996566179);transform-origin:0 0;-webkit-text-stroke:0.45px #253858;">Dashboards</div>
<div class="t" style="left:1499.00px;top:43px;font-size:28px;line-height:28px;color:#253858;letter-spacing:0.336px;transform:scaleX(1.0575244332207592);transform-origin:0 0;-webkit-text-stroke:0.45px #253858;">Apps</div>
<div class="t" style="left:1668.95px;top:43px;font-size:28px;line-height:28px;color:#FFFFFF;letter-spacing:0.336px;transform:scaleX(1.0505206553870388);transform-origin:0 0;-webkit-text-stroke:0.45px #FFFFFF;">Create</div>
<div class="t" style="left:2088.47px;top:42px;font-size:28px;line-height:28px;color:#69778F;letter-spacing:0.336px;transform:scaleX(1.033879699756441);transform-origin:0 0;-webkit-text-stroke:0.15px #69778F;">Search</div>
<div class="t" style="left:141.63px;top:181px;font-size:28px;line-height:28px;color:#2E4268;letter-spacing:0.336px;transform:scaleX(1.0842832826455577);transform-origin:0 0;-webkit-text-stroke:0.9px #2E4268;">Bancly Support</div>
<div class="t" style="left:142.49px;top:216px;font-size:24px;line-height:24px;color:#69778F;letter-spacing:0.720px;transform:scaleX(1.0146212231403748);transform-origin:0 0;-webkit-text-stroke:0.15px #69778F;">Service Project</div>
<div class="t" style="left:116.00px;top:307px;font-size:28px;line-height:28px;color:#0052CC;letter-spacing:0.336px;transform:scaleX(1.012675052354509);transform-origin:0 0;-webkit-text-stroke:0.15px #0052CC;">Queues</div>
<div class="t" style="left:116.00px;top:387px;font-size:28px;line-height:28px;color:#3F5173;letter-spacing:0.336px;transform:scaleX(1.0048047668535054);transform-origin:0 0;-webkit-text-stroke:0.15px #3F5173;">Raise a request</div>
<div class="t" style="left:40.72px;top:502px;font-size:22px;line-height:22px;color:#69778F;letter-spacing:0.660px;font-weight:700;transform:scaleX(0.9755465997893352);transform-origin:0 0;-webkit-text-stroke:0.7px #69778F;">KNOWLEDGE</div>
<div class="t" style="left:116.00px;top:567px;font-size:28px;line-height:28px;color:#3F5173;letter-spacing:0.336px;transform:scaleX(1.0244608556130472);transform-origin:0 0;-webkit-text-stroke:0.15px #3F5173;">Knowledge base</div>
<div class="t" style="left:116.00px;top:647px;font-size:28px;line-height:28px;color:#3F5173;letter-spacing:0.336px;transform:scaleX(1.0327385632863901);transform-origin:0 0;-webkit-text-stroke:0.15px #3F5173;">Reports</div>
<div class="t" style="left:40.72px;top:762px;font-size:22px;line-height:22px;color:#69778F;letter-spacing:0.660px;font-weight:700;transform:scaleX(0.9775860342336851);transform-origin:0 0;-webkit-text-stroke:0.7px #69778F;">PEOPLE &amp; CHANNELS</div>
<div class="t" style="left:116.00px;top:827px;font-size:28px;line-height:28px;color:#3F5173;letter-spacing:0.336px;transform:scaleX(1.0162573226639198);transform-origin:0 0;-webkit-text-stroke:0.15px #3F5173;">Channels</div>
<div class="t" style="left:116.00px;top:907px;font-size:28px;line-height:28px;color:#3F5173;letter-spacing:0.336px;transform:scaleX(1.0339048227952483);transform-origin:0 0;-webkit-text-stroke:0.15px #3F5173;">Customers</div>
<div class="t" style="left:559.51px;top:171px;font-size:28px;line-height:28px;color:#69778F;letter-spacing:0.336px;transform:scaleX(1.043817121797425);transform-origin:0 0;-webkit-text-stroke:0.15px #69778F;">Projects</div>
<div class="t" style="left:710.83px;top:171px;font-size:28px;line-height:28px;color:#69778F;letter-spacing:0.336px;transform:scaleX(1.0344072907270272);transform-origin:0 0;-webkit-text-stroke:0.15px #69778F;">Bancly Support</div>
<div class="t" style="left:957.00px;top:171px;font-size:28px;line-height:28px;color:#69778F;letter-spacing:0.336px;transform:scaleX(1.0025743718524687);transform-origin:0 0;-webkit-text-stroke:0.15px #69778F;">Queues</div>
<div class="t" style="left:560.70px;top:217px;font-size:49px;line-height:49px;color:#172B4D;letter-spacing:0.588px;transform:scaleX(0.9271047727484634);transform-origin:0 0;-webkit-text-stroke:1.0px #172B4D;">All</div>
<div class="t" style="left:621.20px;top:217px;font-size:49px;line-height:49px;color:#172B4D;letter-spacing:0.588px;transform:scaleX(0.9510094518959438);transform-origin:0 0;-webkit-text-stroke:1.0px #172B4D;">open</div>
<div class="t" style="left:672.00px;top:380px;font-size:24px;line-height:24px;color:#69778F;letter-spacing:0.000px;transform:scaleX(0.9533333333333303);transform-origin:0 0;-webkit-text-stroke:0.8px #69778F;">T</div>
<div class="t" style="left:735.04px;top:380px;font-size:24px;line-height:24px;color:#69778F;letter-spacing:0.720px;transform:scaleX(0.9570415453230202);transform-origin:0 0;-webkit-text-stroke:0.8px #69778F;">Key</div>
<div class="t" style="left:891.30px;top:380px;font-size:24px;line-height:24px;color:#69778F;letter-spacing:0.720px;transform:scaleX(1.0663757724107201);transform-origin:0 0;-webkit-text-stroke:0.8px #69778F;">Title</div>
<div class="t" style="left:1531.95px;top:380px;font-size:24px;line-height:24px;color:#69778F;letter-spacing:0.720px;transform:scaleX(1.0469827074639217);transform-origin:0 0;-webkit-text-stroke:0.8px #69778F;">Reporter</div>
<div class="t" style="left:1838.90px;top:380px;font-size:24px;line-height:24px;color:#69778F;letter-spacing:0.720px;transform:scaleX(1.0239520415285541);transform-origin:0 0;-webkit-text-stroke:0.8px #69778F;">Assignee</div>
<div class="t" style="left:2205.33px;top:380px;font-size:24px;line-height:24px;color:#69778F;letter-spacing:0.720px;transform:scaleX(1.070229379105929);transform-origin:0 0;-webkit-text-stroke:0.8px #69778F;">Status</div>
<div class="t" style="left:2581.96px;top:380px;font-size:24px;line-height:24px;color:#69778F;letter-spacing:0.720px;transform:scaleX(1.038965095802048);transform-origin:0 0;-webkit-text-stroke:0.8px #69778F;">First response</div>
<div class="t" style="left:734.20px;top:460px;font-size:24px;line-height:24px;color:#69778F;letter-spacing:0.720px;transform:scaleX(0.9887942708096663);transform-origin:0 0;-webkit-text-stroke:0.8px #69778F;">BSP-12</div>
<div class="t" style="left:890.00px;top:459px;font-size:28px;line-height:28px;color:#172B4D;letter-spacing:0.336px;transform:scaleX(1.047178939058936);transform-origin:0 0;-webkit-text-stroke:0.15px #172B4D;">Lost badge at rocketry convention</div>
<div class="t" style="left:1532.00px;top:459px;font-size:28px;line-height:28px;color:#172B4D;letter-spacing:0.336px;transform:scaleX(1.024875518810798);transform-origin:0 0;-webkit-text-stroke:0.15px #172B4D;">Grace Harris</div>
<div class="t" style="left:1902.80px;top:457px;font-size:28px;line-height:28px;color:#172B4D;letter-spacing:0.336px;transform:scaleX(1.0118893847193369);transform-origin:0 0;-webkit-text-stroke:0.15px #172B4D;">William Adams</div>
<div class="t" style="left:2215.20px;top:462px;font-size:22px;line-height:22px;color:#3F5173;letter-spacing:0.660px;font-weight:700;transform:scaleX(0.955979894639905);transform-origin:0 0;-webkit-text-stroke:0.2px #3F5173;">WAITING FOR SUPPORT</div>
<div class="t" style="left:2691.00px;top:454px;font-size:29px;line-height:29px;color:#3F5173;letter-spacing:0.870px;font-weight:700;transform:scaleX(1.0000555129499376);transform-origin:0 0;">14m</div>
<div class="t" style="left:734.20px;top:540px;font-size:24px;line-height:24px;color:#69778F;letter-spacing:0.720px;transform:scaleX(0.9764554119142848);transform-origin:0 0;-webkit-text-stroke:0.8px #69778F;">BSP-11</div>
<div class="t" style="left:890.00px;top:539px;font-size:28px;line-height:28px;color:#172B4D;letter-spacing:0.336px;transform:scaleX(1.0391031401660178);transform-origin:0 0;-webkit-text-stroke:0.15px #172B4D;">Outlook isn&#x27;t loading new emails</div>
<div class="t" style="left:1532.00px;top:539px;font-size:28px;line-height:28px;color:#172B4D;letter-spacing:0.336px;transform:scaleX(1.005092426103448);transform-origin:0 0;-webkit-text-stroke:0.15px #172B4D;">Annika Rangarajan</div>
<div class="t" style="left:1902.80px;top:537px;font-size:28px;line-height:28px;color:#172B4D;letter-spacing:0.336px;transform:scaleX(1.015136199843405);transform-origin:0 0;-webkit-text-stroke:0.15px #172B4D;">Stefanie Auer</div>
<div class="t" style="left:2215.20px;top:542px;font-size:22px;line-height:22px;color:#3F5173;letter-spacing:0.660px;font-weight:700;transform:scaleX(0.9526377104278085);transform-origin:0 0;-webkit-text-stroke:0.2px #3F5173;">WAITING FOR RESPONSE</div>
<div class="t" style="left:2686.93px;top:534px;font-size:29px;line-height:29px;color:#3F5173;letter-spacing:0.870px;font-weight:700;transform:scaleX(1.0702348471920384);transform-origin:0 0;">20m</div>
<div class="t" style="left:734.20px;top:620px;font-size:24px;line-height:24px;color:#69778F;letter-spacing:0.720px;transform:scaleX(1.0015904319613198);transform-origin:0 0;-webkit-text-stroke:0.8px #69778F;">BSP-10</div>
<div class="t" style="left:890.00px;top:619px;font-size:28px;line-height:28px;color:#172B4D;letter-spacing:0.336px;transform:scaleX(1.0203705199016806);transform-origin:0 0;-webkit-text-stroke:0.15px #172B4D;">Can I get a new staff ID card?</div>
<div class="t" style="left:1532.00px;top:619px;font-size:28px;line-height:28px;color:#172B4D;letter-spacing:0.336px;transform:scaleX(0.994126560637322);transform-origin:0 0;-webkit-text-stroke:0.15px #172B4D;">Eva Lien</div>
<div class="t" style="left:1902.80px;top:617px;font-size:28px;line-height:28px;color:#172B4D;letter-spacing:0.336px;transform:scaleX(1.0118893847193369);transform-origin:0 0;-webkit-text-stroke:0.15px #172B4D;">William Adams</div>
<div class="t" style="left:2215.20px;top:622px;font-size:22px;line-height:22px;color:#3F5173;letter-spacing:0.660px;font-weight:700;transform:scaleX(0.955979894639905);transform-origin:0 0;-webkit-text-stroke:0.2px #3F5173;">WAITING FOR SUPPORT</div>
<div class="t" style="left:2650.03px;top:614px;font-size:29px;line-height:29px;color:#3F5173;letter-spacing:0.870px;font-weight:700;transform:scaleX(0.9654531478340512);transform-origin:0 0;">1h 14m</div>
<div class="t" style="left:734.20px;top:700px;font-size:24px;line-height:24px;color:#69778F;letter-spacing:0.720px;transform:scaleX(1.050448501813092);transform-origin:0 0;-webkit-text-stroke:0.8px #69778F;">BSP-09</div>
<div class="t" style="left:890.00px;top:699px;font-size:28px;line-height:28px;color:#172B4D;letter-spacing:0.336px;transform:scaleX(1.0338767110584304);transform-origin:0 0;-webkit-text-stroke:0.15px #172B4D;">Lunar solar panel procurement help</div>
<div class="t" style="left:1532.00px;top:699px;font-size:28px;line-height:28px;color:#172B4D;letter-spacing:0.336px;transform:scaleX(1.0229178723205092);transform-origin:0 0;-webkit-text-stroke:0.15px #172B4D;">Joshua Williams</div>
<div class="t" style="left:1902.80px;top:697px;font-size:28px;line-height:28px;color:#172B4D;letter-spacing:0.336px;transform:scaleX(1.0118893847193369);transform-origin:0 0;-webkit-text-stroke:0.15px #172B4D;">William Adams</div>
<div class="t" style="left:2215.20px;top:702px;font-size:22px;line-height:22px;color:#3F5173;letter-spacing:0.660px;font-weight:700;transform:scaleX(0.9526377104278085);transform-origin:0 0;-webkit-text-stroke:0.2px #3F5173;">WAITING FOR RESPONSE</div>
<div class="t" style="left:2686.93px;top:694px;font-size:29px;line-height:29px;color:#3F5173;letter-spacing:0.870px;font-weight:700;transform:scaleX(1.0702348471920384);transform-origin:0 0;">20m</div>
<div class="t" style="left:734.20px;top:780px;font-size:24px;line-height:24px;color:#69778F;letter-spacing:0.720px;transform:scaleX(1.050448501813092);transform-origin:0 0;-webkit-text-stroke:0.8px #69778F;">BSP-08</div>
<div class="t" style="left:890.00px;top:779px;font-size:28px;line-height:28px;color:#172B4D;letter-spacing:0.336px;transform:scaleX(1.0527836316039274);transform-origin:0 0;-webkit-text-stroke:0.15px #172B4D;">Access to office after hours</div>
<div class="t" style="left:1532.00px;top:779px;font-size:28px;line-height:28px;color:#172B4D;letter-spacing:0.336px;transform:scaleX(1.0096787212754315);transform-origin:0 0;-webkit-text-stroke:0.15px #172B4D;">Andres Ramos</div>
<div class="t" style="left:1902.80px;top:777px;font-size:28px;line-height:28px;color:#172B4D;letter-spacing:0.336px;transform:scaleX(1.029436819301397);transform-origin:0 0;-webkit-text-stroke:0.15px #172B4D;">Crystal Wu</div>
<div class="t" style="left:2215.20px;top:782px;font-size:22px;line-height:22px;color:#3F5173;letter-spacing:0.660px;font-weight:700;transform:scaleX(0.955979894639905);transform-origin:0 0;-webkit-text-stroke:0.2px #3F5173;">WAITING FOR SUPPORT</div>
<div class="t" style="left:2687.20px;top:774px;font-size:29px;line-height:29px;color:#3F5173;letter-spacing:0.870px;font-weight:700;transform:scaleX(1.065575371501277);transform-origin:0 0;">45m</div>
<div class="t" style="left:734.20px;top:860px;font-size:24px;line-height:24px;color:#69778F;letter-spacing:0.720px;transform:scaleX(1.0213663173775136);transform-origin:0 0;-webkit-text-stroke:0.8px #69778F;">BSP-07</div>
<div class="t" style="left:890.00px;top:859px;font-size:28px;line-height:28px;color:#172B4D;letter-spacing:0.336px;transform:scaleX(1.0199808264528183);transform-origin:0 0;-webkit-text-stroke:0.15px #172B4D;">Can I expense some supplies for a workshop?</div>
<div class="t" style="left:1532.00px;top:859px;font-size:28px;line-height:28px;color:#172B4D;letter-spacing:0.336px;transform:scaleX(1.0162353125638672);transform-origin:0 0;-webkit-text-stroke:0.15px #172B4D;">Omar Darboe</div>
<div class="t" style="left:1902.80px;top:857px;font-size:28px;line-height:28px;color:#172B4D;letter-spacing:0.336px;transform:scaleX(1.0263020829168397);transform-origin:0 0;-webkit-text-stroke:0.15px #172B4D;">Arjun Singh</div>
<div class="t" style="left:2215.20px;top:862px;font-size:22px;line-height:22px;color:#0747A6;letter-spacing:0.660px;font-weight:700;transform:scaleX(0.9661589579972591);transform-origin:0 0;-webkit-text-stroke:0.2px #0747A6;">AWAITING APPROVAL</div>
<div class="t" style="left:2647.31px;top:854px;font-size:29px;line-height:29px;color:#3F5173;letter-spacing:0.870px;font-weight:700;transform:scaleX(0.9920523672131508);transform-origin:0 0;">2h 18m</div>
<div class="t" style="left:734.20px;top:940px;font-size:24px;line-height:24px;color:#69778F;letter-spacing:0.720px;transform:scaleX(1.0562649387002077);transform-origin:0 0;-webkit-text-stroke:0.8px #69778F;">BSP-06</div>
<div class="t" style="left:890.00px;top:939px;font-size:28px;line-height:28px;color:#172B4D;letter-spacing:0.336px;transform:scaleX(1.0306087827773507);transform-origin:0 0;-webkit-text-stroke:0.15px #172B4D;">Can I upgrade to a bluetooth keyboard?</div>
<div class="t" style="left:1532.00px;top:939px;font-size:28px;line-height:28px;color:#172B4D;letter-spacing:0.336px;transform:scaleX(1.0177281949719865);transform-origin:0 0;-webkit-text-stroke:0.15px #172B4D;">Jane Rotanson</div>
<div class="t" style="left:1902.80px;top:937px;font-size:28px;line-height:28px;color:#172B4D;letter-spacing:0.336px;transform:scaleX(1.0052879271754132);transform-origin:0 0;-webkit-text-stroke:0.15px #172B4D;">Samuel Hall</div>
<div class="t" style="left:2215.20px;top:942px;font-size:22px;line-height:22px;color:#0747A6;letter-spacing:0.660px;font-weight:700;transform:scaleX(0.9661589579972591);transform-origin:0 0;-webkit-text-stroke:0.2px #0747A6;">AWAITING APPROVAL</div>
<div class="t" style="left:2661.70px;top:934px;font-size:29px;line-height:29px;color:#3F5173;letter-spacing:0.870px;font-weight:700;transform:scaleX(1.0209532789435258);transform-origin:0 0;">4h 3m</div>
<div class="t" style="left:734.20px;top:1020px;font-size:24px;line-height:24px;color:#69778F;letter-spacing:0.720px;transform:scaleX(1.0446320649259764);transform-origin:0 0;-webkit-text-stroke:0.8px #69778F;">BSP-05</div>
<div class="t" style="left:890.00px;top:1019px;font-size:28px;line-height:28px;color:#172B4D;letter-spacing:0.336px;transform:scaleX(1.0462228767729642);transform-origin:0 0;-webkit-text-stroke:0.15px #172B4D;">What is the budget for training?</div>
<div class="t" style="left:1532.00px;top:1019px;font-size:28px;line-height:28px;color:#172B4D;letter-spacing:0.336px;transform:scaleX(1.015156625472574);transform-origin:0 0;-webkit-text-stroke:0.15px #172B4D;">Amar Sundaram</div>
<div class="t" style="left:1902.80px;top:1017px;font-size:28px;line-height:28px;color:#172B4D;letter-spacing:0.336px;transform:scaleX(1.0052879271754132);transform-origin:0 0;-webkit-text-stroke:0.15px #172B4D;">Samuel Hall</div>
<div class="t" style="left:2215.20px;top:1022px;font-size:22px;line-height:22px;color:#006644;letter-spacing:0.660px;font-weight:700;transform:scaleX(0.9535938032125704);transform-origin:0 0;-webkit-text-stroke:0.2px #006644;">APPROVED</div>
<div class="t" style="left:2717.86px;top:1014px;font-size:29px;line-height:29px;color:#3F5173;letter-spacing:0.870px;font-weight:700;transform:scaleX(0.943796659869043);transform-origin:0 0;">1h</div>
<div class="t" style="left:734.20px;top:1100px;font-size:24px;line-height:24px;color:#69778F;letter-spacing:0.720px;transform:scaleX(1.0562649387002077);transform-origin:0 0;-webkit-text-stroke:0.8px #69778F;">BSP-04</div>
<div class="t" style="left:890.00px;top:1099px;font-size:28px;line-height:28px;color:#172B4D;letter-spacing:0.336px;transform:scaleX(1.0181366276614843);transform-origin:0 0;-webkit-text-stroke:0.15px #172B4D;">Can I get a new charger?</div>
<div class="t" style="left:1532.00px;top:1099px;font-size:28px;line-height:28px;color:#172B4D;letter-spacing:0.336px;transform:scaleX(1.0125438852170172);transform-origin:0 0;-webkit-text-stroke:0.15px #172B4D;">Jie Yan Song</div>
<div class="t" style="left:1902.80px;top:1097px;font-size:28px;line-height:28px;color:#172B4D;letter-spacing:0.336px;transform:scaleX(1.0119635141559769);transform-origin:0 0;-webkit-text-stroke:0.15px #172B4D;">Jane Rotanson</div>
<div class="t" style="left:2215.20px;top:1102px;font-size:22px;line-height:22px;color:#006644;letter-spacing:0.660px;font-weight:700;transform:scaleX(0.9535938032125704);transform-origin:0 0;-webkit-text-stroke:0.2px #006644;">APPROVED</div>
<div class="t" style="left:2714.14px;top:1094px;font-size:29px;line-height:29px;color:#3F5173;letter-spacing:0.870px;font-weight:700;transform:scaleX(1.0563022219726497);transform-origin:0 0;">2h</div>
<div class="t" style="left:734.20px;top:1180px;font-size:24px;line-height:24px;color:#69778F;letter-spacing:0.720px;transform:scaleX(1.0446320649259764);transform-origin:0 0;-webkit-text-stroke:0.8px #69778F;">BSP-03</div>
<div class="t" style="left:890.00px;top:1179px;font-size:28px;line-height:28px;color:#172B4D;letter-spacing:0.336px;transform:scaleX(1.0423324073740303);transform-origin:0 0;-webkit-text-stroke:0.15px #172B4D;">Can I book out 8-04 room for two days?</div>
<div class="t" style="left:1532.00px;top:1179px;font-size:28px;line-height:28px;color:#172B4D;letter-spacing:0.336px;transform:scaleX(0.9941638684680998);transform-origin:0 0;-webkit-text-stroke:0.15px #172B4D;">Fran Perez</div>
<div class="t" style="left:1902.80px;top:1177px;font-size:28px;line-height:28px;color:#172B4D;letter-spacing:0.336px;transform:scaleX(1.0107432736843243);transform-origin:0 0;-webkit-text-stroke:0.15px #172B4D;">Jie Yan Song</div>
<div class="t" style="left:2215.20px;top:1182px;font-size:22px;line-height:22px;color:#3F5173;letter-spacing:0.660px;font-weight:700;transform:scaleX(0.955979894639905);transform-origin:0 0;-webkit-text-stroke:0.2px #3F5173;">WAITING FOR SUPPORT</div>
<div class="t" style="left:2647.31px;top:1174px;font-size:29px;line-height:29px;color:#3F5173;letter-spacing:0.870px;font-weight:700;transform:scaleX(0.9920523672131508);transform-origin:0 0;">1h 32m</div>
<div class="t" style="left:734.20px;top:1260px;font-size:24px;line-height:24px;color:#69778F;letter-spacing:0.720px;transform:scaleX(1.0446320649259764);transform-origin:0 0;-webkit-text-stroke:0.8px #69778F;">BSP-02</div>
<div class="t" style="left:890.00px;top:1259px;font-size:28px;line-height:28px;color:#172B4D;letter-spacing:0.336px;transform:scaleX(1.040443320147814);transform-origin:0 0;-webkit-text-stroke:0.15px #172B4D;">Subscription renewal</div>
<div class="t" style="left:1532.00px;top:1259px;font-size:28px;line-height:28px;color:#172B4D;letter-spacing:0.336px;transform:scaleX(1.0022842656762951);transform-origin:0 0;-webkit-text-stroke:0.15px #172B4D;">Phan Kim</div>
<div class="t" style="left:1902.80px;top:1257px;font-size:28px;line-height:28px;color:#172B4D;letter-spacing:0.336px;transform:scaleX(1.0052879271754132);transform-origin:0 0;-webkit-text-stroke:0.15px #172B4D;">Samuel Hall</div>
<div class="t" style="left:2215.20px;top:1262px;font-size:22px;line-height:22px;color:#CA0C02;letter-spacing:0.660px;font-weight:700;transform:scaleX(0.9491303057163814);transform-origin:0 0;-webkit-text-stroke:0.2px #CA0C02;">CLOSED</div>
<div class="t" style="left:2717.86px;top:1254px;font-size:29px;line-height:29px;color:#3F5173;letter-spacing:0.870px;font-weight:700;transform:scaleX(0.943796659869043);transform-origin:0 0;">1h</div>
<div class="t" style="left:734.20px;top:1340px;font-size:24px;line-height:24px;color:#69778F;letter-spacing:0.720px;transform:scaleX(1.00508029409359);transform-origin:0 0;-webkit-text-stroke:0.8px #69778F;">BSP-01</div>
<div class="t" style="left:890.00px;top:1339px;font-size:28px;line-height:28px;color:#172B4D;letter-spacing:0.336px;transform:scaleX(1.0472941182639917);transform-origin:0 0;-webkit-text-stroke:0.15px #172B4D;">Meeting room 7-32 is sceen is not working</div>
<div class="t" style="left:1532.00px;top:1339px;font-size:28px;line-height:28px;color:#172B4D;letter-spacing:0.336px;transform:scaleX(1.0218742026190055);transform-origin:0 0;-webkit-text-stroke:0.15px #172B4D;">Zlatica Chalupka</div>
<div class="t" style="left:1902.80px;top:1337px;font-size:28px;line-height:28px;color:#172B4D;letter-spacing:0.336px;transform:scaleX(1.0138985455951846);transform-origin:0 0;-webkit-text-stroke:0.15px #172B4D;">Molly Clark</div>
<div class="t" style="left:2215.20px;top:1342px;font-size:22px;line-height:22px;color:#CA0C02;letter-spacing:0.660px;font-weight:700;transform:scaleX(0.9491303057163814);transform-origin:0 0;-webkit-text-stroke:0.2px #CA0C02;">CLOSED</div>
<div class="t" style="left:2651.50px;top:1334px;font-size:29px;line-height:29px;color:#3F5173;letter-spacing:0.870px;font-weight:700;transform:scaleX(0.9662396785394917);transform-origin:0 0;">8h 11m</div>

</body></html>
